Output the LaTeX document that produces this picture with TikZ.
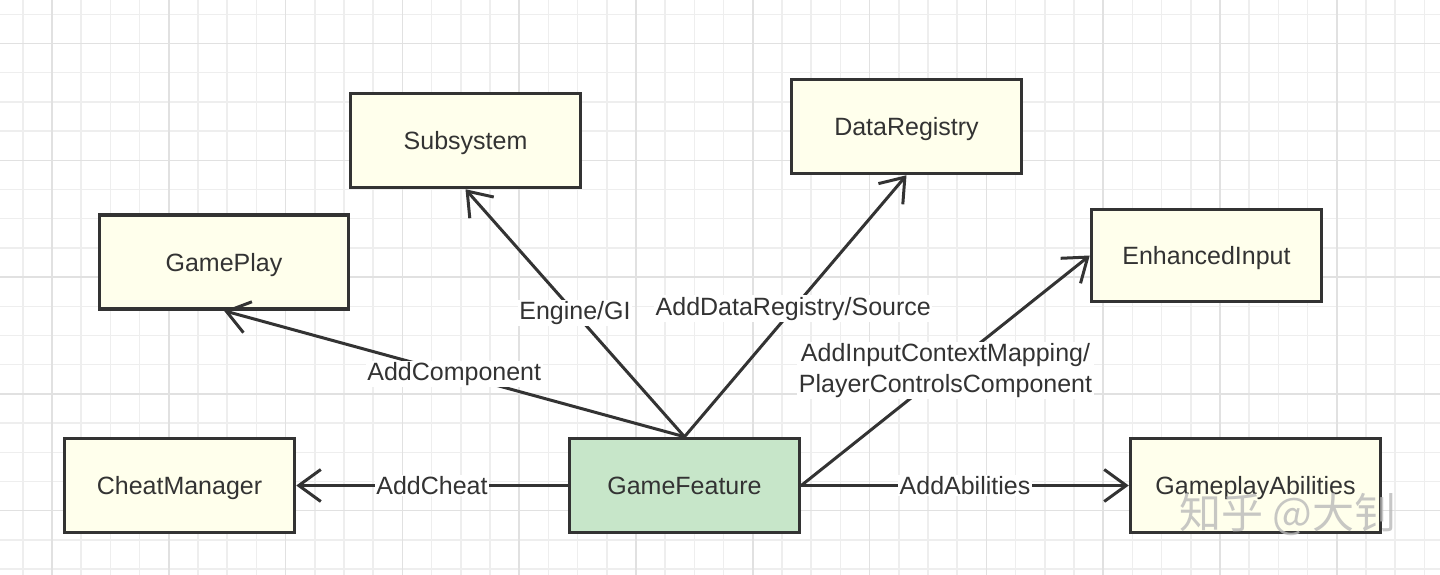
\documentclass[tikz,border=0pt]{standalone}
\usepackage{fontspec}
\setmainfont{Liberation Sans}
\newfontfamily\cjkfont{Noto Sans CJK SC}
\usepackage{tikz}
\usetikzlibrary{arrows.meta}
\definecolor{boxbg}{RGB}{255,255,236}
\definecolor{featurebg}{RGB}{199,230,201}
\definecolor{inkgray}{RGB}{51,51,51}
\definecolor{gridminor}{RGB}{238,238,238}
\definecolor{gridmajor}{RGB}{225,225,225}
\definecolor{markgray}{RGB}{185,185,185}

\begin{document}
\begin{tikzpicture}[x=1pt, y=-1pt,
    box/.style={rectangle, draw=inkgray, line width=3.5pt, fill=boxbg, minimum width=230pt, minimum height=94pt, text height=21pt, text depth=3pt, align=center, text=inkgray, font=\fontsize{25}{30}\selectfont},
    arrow/.style={-{Straight Barb[length=22pt, width=32pt, line width=3pt]}, line width=3pt, inkgray},
    lbl/.style={fill=white, inner sep=1.5pt, text=inkgray, font=\fontsize{25}{31}\selectfont, align=center}
]
\useasboundingbox (0,0) rectangle (1440,575);

% Grid
\fill[white] (0,0) rectangle (1440,575);
\foreach \i in {-1,...,47} \draw[gridminor, line width=1.5pt] ({52+29.2*\i},0) -- ({52+29.2*\i},575);
\foreach \j in {-1,...,18} \draw[gridminor, line width=1.5pt] (0,{43.5+29.2*\j}) -- (1440,{43.5+29.2*\j});
\foreach \i in {0,4,...,44} \draw[gridmajor, line width=1.5pt] ({52+29.2*\i},0) -- ({52+29.2*\i},575);
\foreach \j in {0,4,...,16} \draw[gridmajor, line width=1.5pt] (0,{43.5+29.2*\j}) -- (1440,{43.5+29.2*\j});

% Modules
\node[box] (ss) at (465.5,140.5) {Subsystem};
\node[box] (dr) at (906.5,126.5) {DataRegistry};
\node[box, minimum width=249pt] (gp) at (224,262) {GamePlay};
\node[box, minimum height=92pt] (ei) at (1206.5,255.5) {EnhancedInput};
\node[box] (cm) at (179.5,485.5) {CheatManager};
\node[box, fill=featurebg] (gf) at (684.5,485.5) {GameFeature};
\node[box, minimum width=250pt] (ga) at (1255.5,485.5) {GameplayAbilities};

% Actions
\draw[arrow] (gf.west) -- node[lbl] {AddCheat} (cm.east);
\draw[arrow] (gf.east) -- node[lbl] {AddAbilities} (ga.west);
\draw[arrow] (gf.north) -- node[lbl] {AddComponent} (gp.south);
\draw[arrow] (gf.north) -- node[lbl] {Engine/GI} (ss.south);
\draw[arrow] (gf.north) -- node[lbl, pos=0.49] {AddDataRegistry/Source} (dr.south);
\draw[arrow] (gf.east) -- node[lbl] {AddInputContextMapping/\\PlayerControlsComponent} (ei.west);

% Watermark
\node[text=markgray, opacity=0.8, font=\cjkfont\fontsize{42}{46}\selectfont] (wm) at (1288,514) {知乎 @大钊};

\end{tikzpicture}
\end{document}
